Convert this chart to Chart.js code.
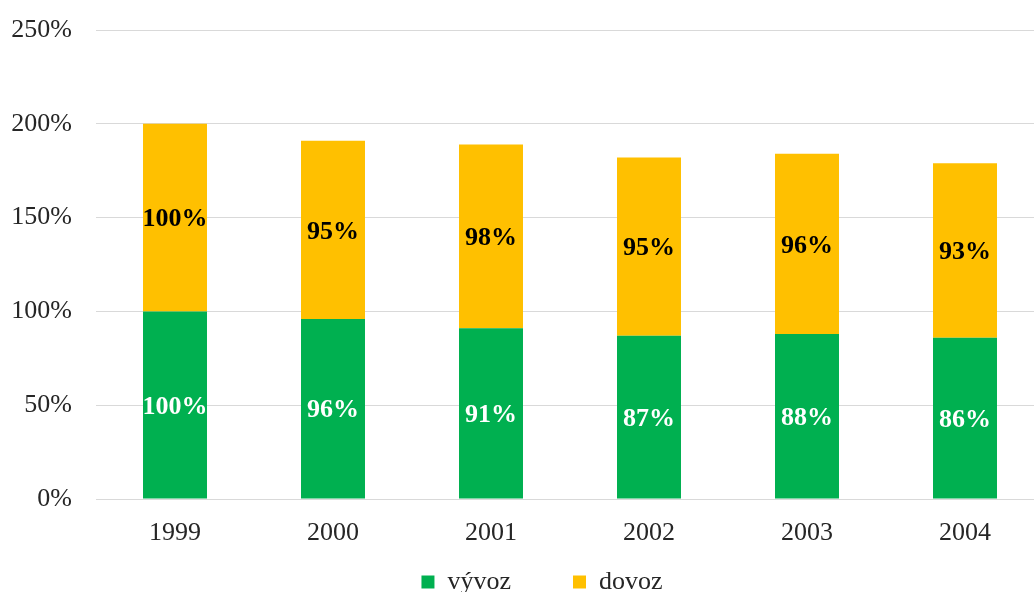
<!DOCTYPE html>
<html>
<head>
<meta charset="utf-8">
<script src="https://cdn.jsdelivr.net/npm/chart.js@4/dist/chart.umd.min.js"></script>
<style>
  html, body { margin: 0; padding: 0; background: #fff; overflow: hidden; }
  #wrap { width: 1044px; height: 592px; }
</style>
</head>
<body>
<div id="wrap"><canvas id="chart"></canvas></div>
<script>
const years = ["1999", "2000", "2001", "2002", "2003", "2004"];
const vyvoz = [100, 96, 91, 87, 88, 86];
const dovoz = [100, 95, 98, 95, 96, 93];
const yTicks = [0, 50, 100, 150, 200, 250];

const serif = "'Liberation Serif', 'Times New Roman', serif";

// draws the value inside each bar segment
const barLabels = {
  id: 'barLabels',
  afterDatasetsDraw(chart) {
    const ctx = chart.ctx;
    ctx.save();
    ctx.font = "bold 26px " + serif;
    ctx.textAlign = 'center';
    ctx.textBaseline = 'middle';
    chart.data.datasets.forEach((ds, i) => {
      const meta = chart.getDatasetMeta(i);
      meta.data.forEach((bar, j) => {
        const p = bar.getProps(['x', 'y', 'base'], true);
        ctx.fillStyle = ds.labelColor;
        ctx.fillText(ds.data[j] + '%', p.x, (p.y + p.base) / 2 + 2);
      });
    });
    ctx.restore();
  }
};

// legend sits a bit right of and lower than chart.js would put it
const nudgeLegend = {
  id: 'nudgeLegend',
  afterLayout(chart) {
    const lg = chart.legend;
    lg.left += 20; lg.right += 20;
    lg.top += 13; lg.bottom += 13;
  }
};

new Chart(document.getElementById('chart'), {
  type: 'bar',
  data: {
    labels: years,
    datasets: [
      { label: 'vývoz        ', data: vyvoz, backgroundColor: '#00B050', labelColor: '#ffffff' },
      { label: 'dovoz', data: dovoz, backgroundColor: '#FFC000', labelColor: '#000000' }
    ]
  },
  options: {
    responsive: true,
    maintainAspectRatio: false,
    animation: false,
    layout: { padding: { left: 0, top: 30, right: 0, bottom: 0 } },
    datasets: {
      bar: { categoryPercentage: 1, barPercentage: 0.405 }
    },
    plugins: {
      legend: {
        position: 'bottom',
        labels: {
          boxWidth: 13,
          boxHeight: 13,
          padding: 10,
          color: '#262626',
          font: { family: serif, size: 26 }
        }
      },
      tooltip: { enabled: false }
    },
    scales: {
      x: {
        stacked: true,
        afterFit: s => { s.height = 47; },
        grid: { display: false },
        border: { display: false },
        ticks: { color: '#262626', padding: 11, font: { family: serif, size: 26 } }
      },
      y: {
        stacked: true,
        min: 0,
        max: 250,
        afterBuildTicks: s => { s.ticks = yTicks.map(v => ({ value: v })); },
        afterFit: s => { s.width = 96; s.paddingTop = 0; s.paddingBottom = 0; },
        grid: { color: '#d9d9d9', lineWidth: 1, drawTicks: false },
        border: { display: false },
        ticks: {
          color: '#262626',
          padding: 24,
          font: { family: serif, size: 26 },
          callback: v => v + '%'
        }
      }
    }
  },
  plugins: [barLabels, nudgeLegend]
});
</script>
</body>
</html>
